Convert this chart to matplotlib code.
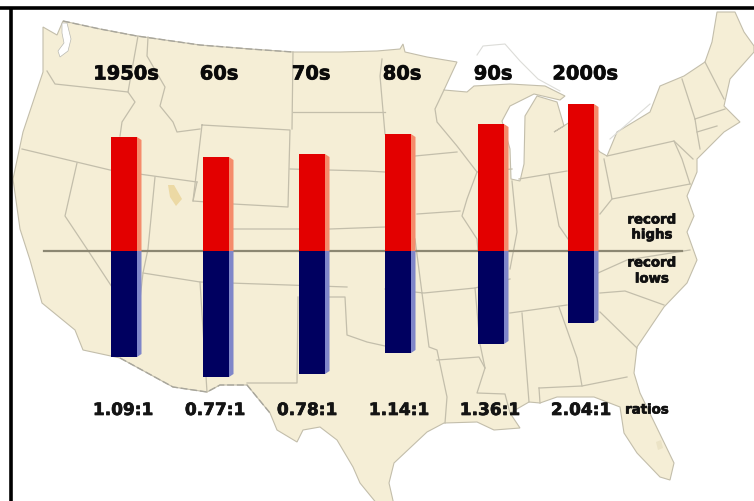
import matplotlib
matplotlib.use('Agg')
import matplotlib.pyplot as plt
from matplotlib.patches import Polygon
import matplotlib.patheffects as pe

decades = ['1950s', '60s', '70s', '80s', '90s', '2000s']
ratios = ['1.09:1', '0.77:1', '0.78:1', '1.14:1', '1.36:1', '2.04:1']
record_highs = [114, 94, 97, 117, 127, 147]
record_lows = [106, 126, 123, 102, 93, 72]
bar_lefts = [111, 203, 299, 385, 478, 568]

# lower 48 outline, clockwise from the Olympic peninsula
outline = [(43, 28), (50, 32), (57, 36), (63, 22), (100, 30), (137, 37), (200, 46), (250, 50), (293, 53),
           (340, 53), (377, 52), (400, 50), (403, 45), (405, 53), (427, 58), (457, 63), (450, 78), (444, 91),
           (467, 93), (474, 87), (510, 85), (545, 87), (565, 97), (560, 101), (534, 95), (510, 107), (502, 122),
           (510, 150), (511, 180), (520, 182), (524, 165), (525, 117), (537, 97), (557, 103), (564, 127),
           (554, 133), (570, 123), (582, 135), (600, 153), (607, 157), (617, 133), (650, 113), (660, 87),
           (684, 77), (705, 63), (712, 43), (717, 13), (735, 13), (744, 33), (754, 47), (754, 53), (730, 80),
           (724, 107), (740, 123), (724, 133), (697, 160), (697, 173), (687, 197), (694, 217), (687, 233),
           (697, 261), (687, 284), (664, 308), (637, 348), (634, 374), (640, 394), (674, 464), (670, 481),
           (660, 478), (637, 454), (624, 434), (620, 408), (594, 398), (557, 398), (540, 404), (529, 403),
           (510, 414), (520, 429), (494, 431), (477, 423), (444, 424), (427, 433), (394, 464), (389, 484),
           (394, 506), (378, 506), (360, 484), (353, 468), (337, 441), (320, 428), (303, 431), (297, 443),
           (277, 431), (270, 414), (247, 386), (220, 386), (207, 393), (173, 388), (120, 359), (83, 351),
           (75, 331), (42, 304), (30, 261), (20, 230), (13, 180), (23, 133), (43, 73)]

state_lines = [
    [(47, 72), (55, 85), (83, 88), (128, 93)],
    [(138, 37), (128, 93), (135, 103), (122, 123), (120, 137)],
    [(22, 150), (110, 171), (197, 183)],
    [(148, 38), (147, 57), (165, 88), (160, 107), (173, 123), (177, 133), (200, 130)],
    [(202, 126), (290, 131), (288, 208), (233, 205), (193, 202), (202, 126)],
    [(155, 178), (148, 250), (143, 274), (140, 300)],
    [(77, 164), (65, 217), (87, 250), (112, 288), (118, 340)],
    [(143, 274), (200, 283), (347, 288)],
    [(197, 183), (193, 202)],
    [(200, 283), (207, 393)],
    [(328, 298), (345, 298), (347, 336), (367, 343), (385, 347)],
    [(298, 298), (297, 384), (247, 384)],
    [(293, 53), (292, 130)],
    [(293, 113), (385, 113)],
    [(290, 170), (367, 172), (385, 173)],
    [(233, 230), (288, 230), (330, 230), (385, 228)],
    [(382, 60), (380, 77), (385, 135)],
    [(415, 157), (457, 153)],
    [(417, 215), (460, 212)],
    [(385, 290), (424, 294), (475, 289)],
    [(444, 91), (435, 110), (437, 123), (457, 147), (477, 173), (467, 200), (462, 217), (477, 240), (478, 252)],
    [(477, 173), (512, 170)],
    [(512, 182), (517, 233), (510, 270)],
    [(549, 175), (559, 227), (568, 240)],
    [(519, 180), (567, 172)],
    [(607, 157), (674, 142), (693, 160)],
    [(604, 160), (612, 200), (690, 185)],
    [(690, 185), (682, 160), (674, 142)],
    [(682, 80), (695, 120)],
    [(705, 63), (724, 100)],
    [(695, 120), (725, 110)],
    [(697, 133), (717, 127)],
    [(695, 120), (697, 133), (700, 150)],
    [(510, 314), (567, 306)],
    [(598, 274), (627, 261), (690, 251)],
    [(600, 294), (625, 292), (664, 306)],
    [(600, 313), (637, 349)],
    [(559, 308), (577, 359), (582, 387)],
    [(522, 314), (529, 403)],
    [(539, 389), (582, 387), (627, 378)],
    [(539, 389), (540, 404)],
    [(437, 361), (479, 358), (485, 369), (477, 394), (505, 395), (510, 414)],
    [(422, 294), (429, 348), (437, 351), (447, 398), (445, 424)],
    [(510, 280), (475, 289), (480, 345), (485, 369)],
    [(600, 215), (612, 200)],
    [(415, 240), (422, 294)],
]

# national border sections drawn with a broken grey line
north_border = [(63, 22), (100, 30), (137, 37), (200, 46), (250, 50), (293, 53)]
south_border = [(120, 359), (173, 388), (207, 393), (220, 386), (247, 386), (270, 414)]
# faint shoreline north of the lakes
lake_shore = [(477, 56), (483, 47), (505, 45), (520, 62), (538, 80), (560, 92)]
erie_shore = [(610, 140), (635, 118), (650, 105)]

land_color = '#f5eed6'
border_color = '#c3beab'

fig = plt.figure(figsize=(7.54, 5.02), dpi=100)
map_ax = fig.add_axes([0, 0, 1, 1])
map_ax.set_xlim(0, 754)
map_ax.set_ylim(502, 0)
map_ax.axis('off')

map_ax.add_patch(Polygon(outline, closed=True, facecolor=land_color, edgecolor=border_color, linewidth=0.8))
for line in state_lines:
    map_ax.plot([p[0] for p in line], [p[1] for p in line], color=border_color, linewidth=0.9)
for line in [lake_shore, erie_shore]:
    map_ax.plot([p[0] for p in line], [p[1] for p in line], color='#dcdcd8', linewidth=0.8)
for line in [north_border, south_border]:
    map_ax.plot([p[0] for p in line], [p[1] for p in line], color='#a8a69c', linewidth=1.0,
                linestyle=(0, (5, 2)))

# Puget Sound
map_ax.add_patch(Polygon([(62, 24), (67, 24), (71, 40), (68, 52), (60, 58), (58, 52), (64, 44), (62, 34)],
                         closed=True, facecolor='white', edgecolor='#b9b9b2', linewidth=0.5))
# Great Salt Lake and Okeechobee
map_ax.add_patch(Polygon([(168, 186), (174, 186), (182, 200), (176, 207), (170, 198)], closed=True,
                         facecolor='#ecd9a4', edgecolor='none'))
map_ax.add_patch(Polygon([(656, 443), (661, 441), (663, 449), (658, 451)], closed=True,
                         facecolor='#ebe3c6', edgecolor='none'))

# frame on the top and left only
map_ax.plot([0, 754], [9, 9], color='black', linewidth=2.6, solid_capstyle='butt')
map_ax.plot([10.7, 10.7], [7.5, 502], color='black', linewidth=2.6, solid_capstyle='butt')

# bars are measured up and down from the zero line at y=252 of the map axes
ax = fig.add_axes([0, 0, 1, 1], facecolor='none')
ax.set_xlim(0, 754)
ax.set_ylim(-250, 252)
ax.axis('off')

ax.plot([44, 682], [0, 0], color='#8c8772', linewidth=1.6, zorder=1)

bar_width = 26
side_width = 4.5
for left, high, low in zip(bar_lefts, record_highs, record_lows):
    right = left + bar_width
    ax.fill([right, right + side_width, right + side_width, right],
            [high, high - 3, 0, 0], color='#f58b6b', linewidth=0, zorder=2)
    ax.fill([right, right + side_width, right + side_width, right],
            [0, 0, -low + 3, -low], color='#7f86c9', linewidth=0, zorder=2)
ax.bar(bar_lefts, record_highs, width=bar_width, align='edge', color='#e30000', zorder=3)
ax.bar(bar_lefts, [-v for v in record_lows], width=bar_width, align='edge', color='#000060', zorder=3)

font = 'DejaVu Sans'
heavy = [pe.withStroke(linewidth=0.5, foreground='#111111')]
decade_x = [126, 219, 311, 402, 493, 585]
ratio_x = [123, 215, 307, 399, 490, 581]
for x, label in zip(decade_x, decades):
    map_ax.text(x, 75, label, ha='center', va='center', fontsize=14, fontweight='bold',
                family=font, color='#0a0a0a', zorder=5, path_effects=heavy)
for x, label in zip(ratio_x, ratios):
    map_ax.text(x, 411, label, ha='center', va='center', fontsize=12.2, fontweight='bold',
                family=font, color='#141414', zorder=5, path_effects=heavy)
for y, label in [(221, 'record'), (236, 'highs'), (264, 'record'), (280, 'lows')]:
    map_ax.text(652, y, label, ha='center', va='center', fontsize=9.6, fontweight='bold',
                family=font, color='#111111', zorder=5, path_effects=heavy)
map_ax.text(647, 411, 'ratios', ha='center', va='center', fontsize=9.6, fontweight='bold',
            family=font, color='#111111', zorder=5, path_effects=heavy)

fig.savefig('out.png', dpi=100)
